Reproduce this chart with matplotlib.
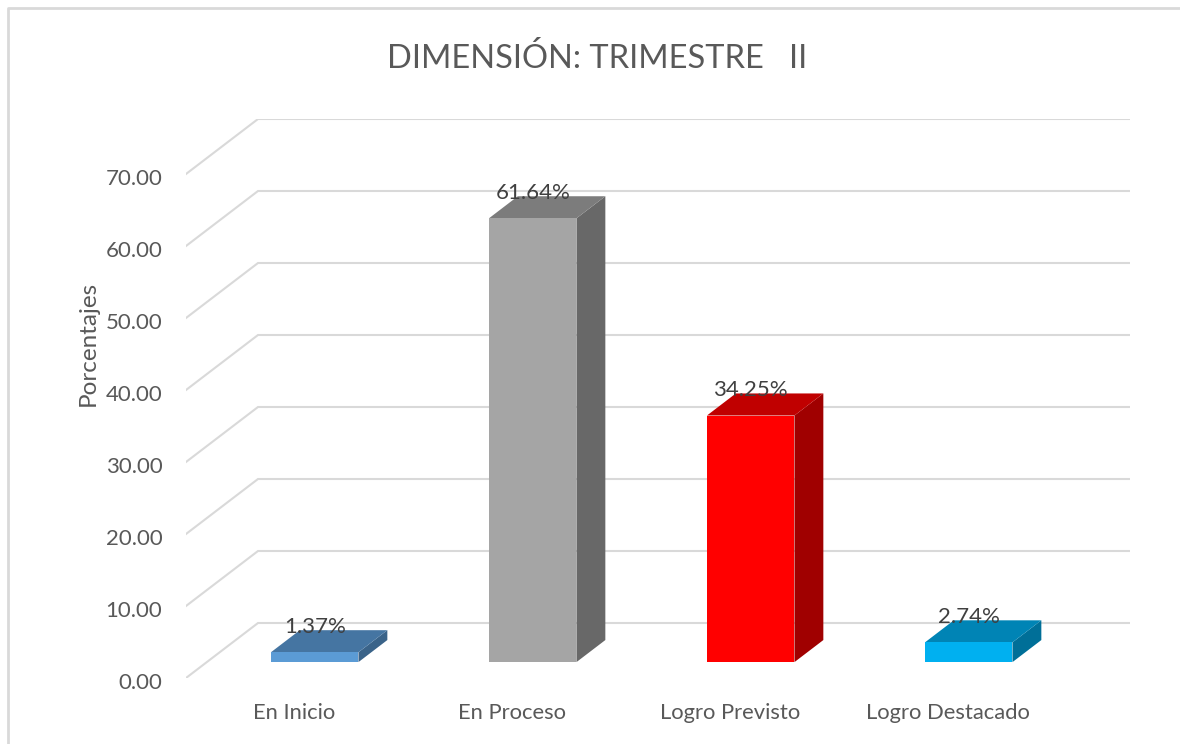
import matplotlib
matplotlib.use("Agg")
from matplotlib import pyplot as plt
from matplotlib.lines import Line2D
from matplotlib.transforms import ScaledTranslation

plt.rcParams['font.family'] = ['Lato', 'DejaVu Sans']

categories = ["En Inicio", "En Proceso", "Logro Previsto", "Logro Destacado"]
values = [1.37, 61.64, 34.25, 2.74]
labels = ["1.37%", "61.64%", "34.25%", "2.74%"]
y_ticks = [0, 10, 20, 30, 40, 50, 60, 70]

front_colors = ["#5B9BD5", "#A5A5A5", "#FF0000", "#00B0F0"]
top_colors = ["#4575A2", "#7C7C7C", "#C00000", "#0084B5"]
side_colors = ["#3A6389", "#686868", "#A00000", "#006F98"]

W, H = 1180, 744
TXT = "#595959"
GRID = "#D9D9D9"

# depth of the fake 3d box, in data units (72 px across, 55 px up)
DX = 72 / 218
DY = 55 / 7.2
BAR_W = 87.5 / 218
D0, D1 = 0.289, 0.69
X0 = -0.495


def proj(x, y, d):
  return x + d * DX, y + d * DY


fig = plt.figure(figsize=(W / 100, H / 100), dpi=100)
ax = fig.add_axes([186 / W, 1 - 678 / H, (1130 - 186) / W, (678 - 119) / H])
ax.set_xlim(X0, X0 + 4 + DX)
ax.set_ylim(0, 559 / 7.2)
for sp in ax.spines.values():
  sp.set_visible(False)

# walls
for v in y_ticks:
  xs = [X0, X0 + DX, X0 + 4 + DX]
  ys = [v, v + DY, v + DY]
  ax.plot(xs, ys, color=GRID, lw=1.5, zorder=1, solid_joinstyle='miter')

# bars
for i, v in enumerate(values):
  l = i - BAR_W / 2
  r = i + BAR_W / 2
  corners_front = [proj(l, 0, D0), proj(r, 0, D0), proj(r, v, D0), proj(l, v, D0)]
  corners_top = [proj(l, v, D0), proj(r, v, D0), proj(r, v, D1), proj(l, v, D1)]
  corners_side = [proj(r, 0, D0), proj(r, 0, D1), proj(r, v, D1), proj(r, v, D0)]
  ax.fill(*zip(*corners_side), color=side_colors[i], lw=0, zorder=3)
  ax.fill(*zip(*corners_top), color=top_colors[i], lw=0, zorder=3)
  ax.fill(*zip(*corners_front), color=front_colors[i], lw=0, zorder=4)
  cx, cy = proj(i, v, D0)
  ax.annotate(labels[i], (cx, cy), xytext=(0, 18.5), textcoords='offset points',
              ha='center', va='center', fontsize=16, color="#404040", zorder=5)

ax.set_yticks(y_ticks)
ax.set_yticklabels([f"{v:.2f}" for v in y_ticks], fontsize=16, color=TXT)
ax.set_xticks(range(len(categories)))
ax.set_xticklabels(categories, fontsize=15.8, color=TXT)
ax.tick_params(axis='y', length=0, pad=17)
ax.tick_params(axis='x', length=0, pad=18)

# nudge the value labels down a little
nudge = ScaledTranslation(0, -3 / 100, fig.dpi_scale_trans)
for t in ax.get_yticklabels():
  t.set_transform(t.get_transform() + nudge)

fig.text(88 / W, 1 - 343 / H, "Porcentajes", rotation=90, ha='center', va='center',
         fontsize=17.5, color=TXT)
fig.text(597 / W, 1 - 58 / H, "DIMENSIÓN: TRIMESTRE   II", ha='center', va='center',
         fontsize=23.5, color=TXT)

# chart frame, only top and left are inside the picture
fig.add_artist(Line2D([8 / W, 8 / W, 1], [0, 1 - 8 / H, 1 - 8 / H], color=GRID, lw=2))

fig.savefig("out.png", dpi=100)
